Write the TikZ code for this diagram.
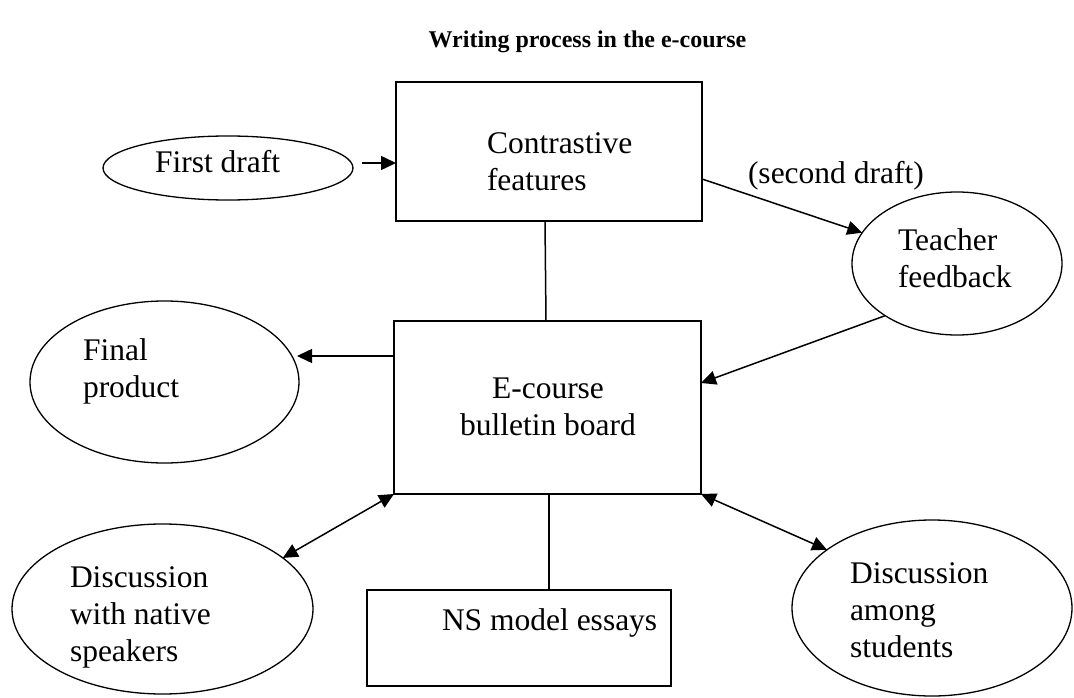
\documentclass[tikz,border=0pt]{standalone}
\usepackage{fontspec}
\setmainfont{Liberation Serif}
\usetikzlibrary{arrows.meta,shapes.geometric,calc}
\begin{document}
\begin{tikzpicture}[x=1pt,y=-1pt,
  every node/.style={inner sep=0pt,outer sep=0pt},
  shapebox/.style={draw,line width=1.5pt,rectangle},
  shapeell/.style={draw,line width=1.3pt,ellipse},
  txt/.style={font=\fontsize{31.5}{37}\selectfont,align=left,anchor=base west},
  conn/.style={line width=1.5pt},
  arr/.style={conn,-{Triangle[length=15pt,width=14pt]}},
  darr/.style={conn,{Triangle[length=15pt,width=14pt]}-{Triangle[length=15pt,width=14pt]}}]
\useasboundingbox (0,0) rectangle (1074,698);
% title
\node[font=\bfseries\fontsize{24}{28}\selectfont,anchor=base] (title) at (587.5,48) {Writing process in the e-course};
% shapes
\node[shapeell,minimum width=250pt,minimum height=64pt] (fd) at (228,168) {};
\node[shapebox,minimum width=306pt,minimum height=139pt] (cf) at (549,151.5) {};
\node[shapebox,minimum width=307pt,minimum height=173pt] (eb) at (547.5,407.5) {};
\node[shapebox,minimum width=304pt,minimum height=96pt] (ns) at (519,638) {};
\node[shapeell,minimum width=210pt,minimum height=143pt] (tf) at (957,263.5) {};
\node[shapeell,minimum width=269pt,minimum height=162pt] (fp) at (164.5,382) {};
\node[shapeell,minimum width=301pt,minimum height=170pt] (dn) at (162.5,609) {};
\node[shapeell,minimum width=280pt,minimum height=176pt] (ds) at (932,608) {};
% texts (base anchor = baseline of last line)
\node[txt] (tfd) at (155,173) {First draft};
\node[txt] (tcf) at (487,190) {Contrastive\\features};
\node[txt] (tsd) at (748,183) {(second draft)};
\node[txt] (ttf) at (898,287) {Teacher\\feedback};
\node[txt] (tfp) at (83,397) {Final\\product};
\node[txt,align=center,anchor=base] (teb) at (548,435) {E-course\\bulletin board};
\node[txt] (tdn) at (70,661) {Discussion\\with native\\speakers};
\node[txt] (tns) at (442,630) {NS model essays};
\node[txt] (tds) at (850,657) {Discussion\\among\\students};
% connectors
\draw[arr] ($(fd.east)+(9,-5)$) -- ($(cf.west)+(0,11.5)$);
\draw[arr] ($(cf.east)+(0,27.5)$) -- (tf.162);
\draw[arr] (tf.216) -- ($(eb.east)+(0,-24.5)$);
\draw[arr] ($(eb.west)+(0,-51.5)$) -- ($(fp.east)+(-2,-26)$);
\draw[conn] ($(cf.south)+(-4,0)$) -- ($(eb.north)+(-1.5,0)$);
\draw[conn] ($(eb.south)+(1.5,0)$) -- ($(ns.north)+(30,0)$);
\draw[darr] (dn.23) -- (eb.south west);
\draw[darr] (eb.south east) -- (ds.151);
\end{tikzpicture}
\end{document}
